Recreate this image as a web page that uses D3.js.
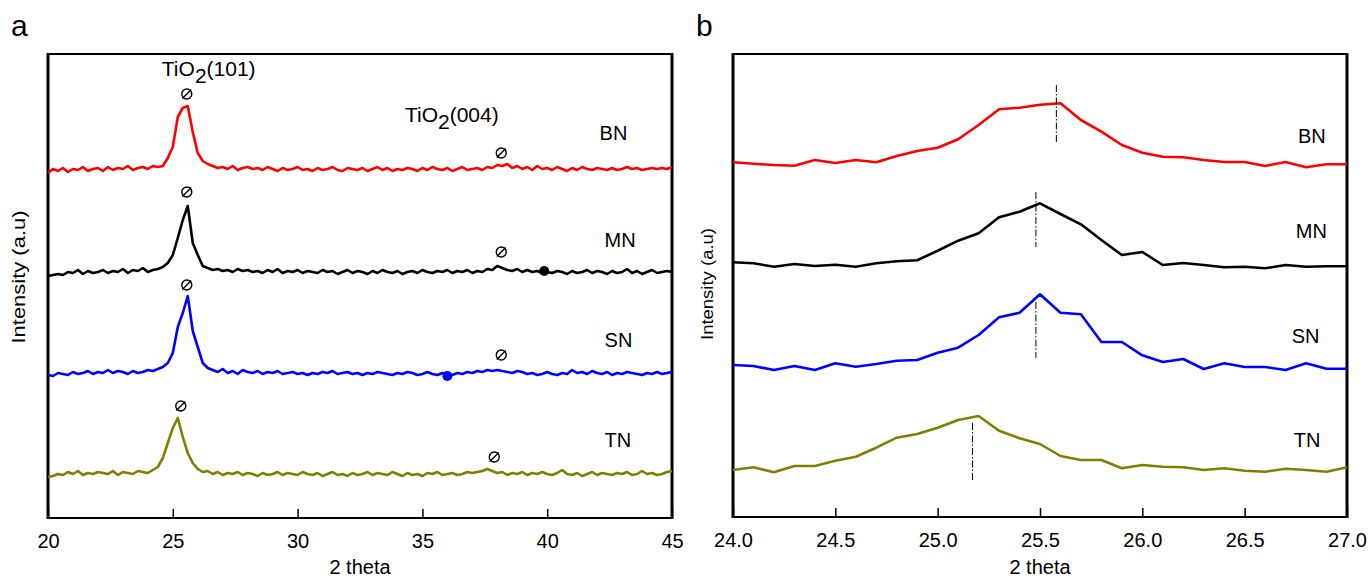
<!DOCTYPE html>
<html>
<head>
<meta charset="utf-8">
<script src="https://cdn.jsdelivr.net/npm/d3@7/dist/d3.min.js"></script>
<style>
	body { margin: 0; background: #fff; }
	text { font-family: "Liberation Sans", Arial, sans-serif; fill: #000; }
</style>
</head>
<body>
<svg id="chart" width="1368" height="579"></svg>
<script>
// samples
const samples = ["BN", "MN", "SN", "TN"];
const colors = ["#ff0000", "#000000", "#0000ff", "#808000"];

// panel a: 2 theta 20..45, one reading every 0.2 deg
const thetaA = d3.range(126).map(i => +(20 + i * 0.2).toFixed(1));
const offsetsA = [340, 236, 135, 34];

const bnA = [
	5, 9, 7, 10, 6, 9, 8, 11, 7, 9, 10, 7, 11, 8, 10, 9, 12, 8, 10, 11, 9, 12,
	11, 12, 20, 31, 61, 70, 72, 46, 25, 17, 14,
	12, 10, 11, 9, 12, 8, 10, 11, 9, 10,
	8, 11, 9, 7, 10, 8, 9, 11, 8, 9,
	7, 10, 8, 9, 11, 8, 7, 10, 9, 8,
	10, 7, 9, 11, 8, 10, 7, 9, 8, 10,
	9, 7, 10, 8, 11, 9, 8, 10, 7, 9,
	11, 8, 9, 10, 8, 11, 10, 13, 12, 14,
	10, 12, 9, 11, 8, 12, 9, 10, 8, 11,
	9, 7, 10, 8, 11, 9, 8, 10, 9, 8,
	10, 8, 9, 11, 9, 10, 8, 9, 10, 9,
	10, 9, 11
];
const mnA = [
	6, 7, 8, 7, 10, 9, 12, 8, 11, 9, 10, 12, 9, 11, 10, 13, 9, 12, 11, 14, 10, 12,
	13, 15, 19, 27, 44, 62, 76, 39, 27, 16, 14,
	12, 13, 11, 12, 10, 13, 11, 12, 10, 11,
	9, 12, 10, 13, 9, 11, 10, 12, 9, 11,
	10, 9, 12, 10, 11, 8, 10, 12, 9, 11,
	10, 8, 11, 9, 12, 10, 9, 11, 8, 10,
	11, 9, 12, 10, 9, 11, 10, 12, 9, 11,
	10, 12, 9, 11, 10, 13, 12, 16, 14, 12,
	11, 13, 10, 12, 10, 11, 9, 10, 9, 11,
	10, 8, 11, 9, 10, 12, 9, 11, 10, 8,
	11, 9, 10, 13, 9, 11, 8, 10, 12, 9,
	10, 11, 10
];
const snA = [
	8, 7, 10, 9, 8, 11, 9, 10, 12, 9, 11, 10, 13, 10, 12, 11, 9, 12, 10, 11, 13, 12,
	14, 16, 20, 30, 56, 70, 87, 52, 36, 20, 15,
	13, 11, 14, 10, 12, 9, 13, 11, 10, 12,
	9, 11, 10, 12, 9, 10, 11, 9, 10, 8,
	10, 9, 11, 10, 12, 9, 10, 11, 9, 10,
	8, 10, 9, 11, 10, 9, 8, 10, 9, 11,
	10, 8, 9, 11, 9, 8, 10, 9, 8, 10,
	9, 11, 10, 12, 11, 13, 12, 13, 12, 11,
	10, 12, 11, 9, 10, 8, 9, 11, 9, 8,
	10, 9, 13, 10, 11, 9, 12, 10, 9, 11,
	8, 10, 9, 11, 10, 9, 8, 10, 9, 11,
	9, 10, 11
];
const tnA = [
	7, 8, 10, 9, 12, 10, 13, 9, 11, 10, 12, 11, 10, 13, 9, 12, 11, 10, 13, 12, 11, 14,
	17, 26, 41, 56, 66, 47, 31, 21, 15, 12, 13,
	10, 12, 9, 11, 10, 12, 9, 11, 10, 8,
	11, 9, 10, 12, 9, 11, 10, 9, 12, 10,
	9, 11, 8, 10, 12, 9, 10, 8, 11, 9,
	10, 12, 9, 11, 10, 9, 12, 10, 8, 11,
	9, 10, 8, 11, 10, 12, 9, 10, 11, 9,
	10, 12, 11, 12, 13, 15, 13, 11, 12, 9,
	11, 10, 12, 9, 11, 10, 12, 10, 9, 11,
	14, 10, 9, 11, 8, 10, 12, 9, 11, 10,
	9, 11, 10, 12, 9, 10, 13, 10, 11, 9,
	10, 12, 13
];
const seriesA = [bnA, mnA, snA, tnA];

// reflection markers in panel a
const peak101 = [25.56, 25.56, 25.56, 25.32];
const mark101 = [424, 326, 233, 112];
const peak004 = [38.16, 38.16, 38.16, 37.88];
const mark004 = [365, 266, 163, 61];
const dotTheta = [39.88, 36.0];
const dotValue = [247, 142];
const dotSample = [1, 2];

// panel b: zoom on the (101) reflection
const thetaB = [24.0, 24.1, 24.2, 24.3, 24.4, 24.5, 24.6, 24.7, 24.8, 24.9, 25.0,
	25.1, 25.2, 25.3, 25.4, 25.5, 25.6, 25.7, 25.8, 25.9, 26.0,
	26.1, 26.2, 26.3, 26.4, 26.5, 26.6, 26.7, 26.8, 26.9, 27.0];
const offsetsB = [340, 240, 140, 40];
const bnB = [14.7, 13.3, 12, 11.3, 17, 14, 17, 14.7, 21, 26, 29.3,
	37.7, 52, 67.7, 69.3, 72.3, 73.7, 57, 45.3, 32, 24.3,
	20.3, 19.7, 17, 15, 15, 11, 15, 9.7, 12.7, 12.7];
const mnB = [14.7, 13.7, 10.3, 13, 11, 12.3, 10.3, 13.7, 15.7, 16.7, 26.3,
	36.3, 43.7, 59.7, 65.3, 73.7, 63, 52.7, 37, 22, 25,
	12, 14, 12, 9.7, 10.3, 8.7, 12, 10.3, 10.7, 10.7];
const snB = [12, 11, 7, 11, 7, 13.7, 10.3, 13, 16.3, 17, 24.3,
	29.3, 42, 59.7, 64.3, 82.7, 64.3, 62.7, 35, 35, 21.7,
	15, 18, 8, 13.7, 10, 10, 7, 13.7, 8.3, 8.3];
const tnB = [7, 9.7, 4.7, 11, 11, 16.3, 20.3, 29.3, 39.3, 43, 49.3,
	57, 61, 46.3, 38.7, 33, 21, 17, 17, 8.7, 12,
	10.3, 9.7, 7, 8.7, 6.3, 5.3, 8.3, 7, 5.3, 9.7];
const seriesB = [bnB, mnB, snB, tnB];

// peak centres (dash-dot marks) in panel b
const peakB = [25.58, 25.48, 25.48, 25.17];
const peakTop = [432, 325, 215, 94];
const peakBottom = [375, 270, 159, 37];

const ticksA = [20, 25, 30, 35, 40, 45];
const ticksB = [24.0, 24.5, 25.0, 25.5, 26.0, 26.5, 27.0];

let svg = d3.select("#chart");

function drawPanel(p)
{
	let x = d3.scaleLinear().domain(p.xDomain).range([p.left, p.right]);
	let y = d3.scaleLinear().domain(p.yDomain).range([p.bottom, p.top]);
	let g = svg.append("g");

	//x-axis, ticks pointing inward
	let ax = g.append("g")
		.attr("transform", "translate(0," + p.bottom + ")")
		.call(d3.axisBottom(x).tickValues(p.ticks).tickFormat(p.format)
			.tickSizeInner(-9).tickSizeOuter(0).tickPadding(16));
	ax.select(".domain").remove();
	ax.selectAll(".tick line").attr("stroke", "#000").attr("stroke-width", 1.5);
	ax.selectAll(".tick text")
		.attr("font-size", 20)
		.attr("font-family", "Liberation Sans, Arial, sans-serif");

	//frame
	g.append("line").attr("x1", p.left).attr("x2", p.right).attr("y1", p.top).attr("y2", p.top)
		.attr("stroke", "#000").attr("stroke-width", 2);
	g.append("line").attr("x1", p.left).attr("x2", p.right).attr("y1", p.bottom).attr("y2", p.bottom)
		.attr("stroke", "#000").attr("stroke-width", 2);
	g.append("line").attr("x1", p.left).attr("x2", p.left).attr("y1", p.top - 1).attr("y2", p.bottom + 1)
		.attr("stroke", "#000").attr("stroke-width", 3);
	g.append("line").attr("x1", p.right).attr("x2", p.right).attr("y1", p.top - 1).attr("y2", p.bottom + 1)
		.attr("stroke", "#000").attr("stroke-width", 3);

	//axis titles
	g.append("text")
		.attr("x", (p.left + p.right) / 2)
		.attr("y", 574)
		.attr("text-anchor", "middle")
		.attr("font-size", 20)
		.text("2 theta");

	g.append("text")
		.attr("transform", "translate(" + p.yLabelX + "," + p.yLabelY + ") rotate(-90)")
		.attr("text-anchor", "middle")
		.attr("font-size", p.yLabelSize)
		.attr("textLength", p.yLabelLength)
		.attr("lengthAdjust", "spacingAndGlyphs")
		.text("Intensity (a.u)");

	//panel letter
	g.append("text")
		.attr("x", p.letterX)
		.attr("y", 36)
		.attr("font-size", 30)
		.text(p.letter);

	//series
	let line = d3.line()
		.x(d => x(d[0]))
		.y(d => y(d[1]));

	for (let i = 0; i < samples.length; i++)
	{
		let pts = p.theta.map((t, k) => [t, p.series[i][k] + p.offsets[i]]);
		g.append("path")
			.datum(pts)
			.attr("fill", "none")
			.attr("stroke", colors[i])
			.attr("stroke-width", 2.6)
			.attr("stroke-linejoin", "round")
			.attr("d", line);

		g.append("text")
			.attr("x", x(p.labelX[i]))
			.attr("y", y(p.labelY[i]))
			.attr("font-size", 20)
			.text(samples[i]);
	}

	return { g: g, x: x, y: y };
}

function slashedCircle(g, cx, cy)
{
	let m = g.append("g").attr("transform", "translate(" + cx + "," + cy + ")");
	m.append("circle").attr("r", 5).attr("fill", "none").attr("stroke", "#000").attr("stroke-width", 1.4);
	m.append("line").attr("x1", -4.5).attr("y1", 4.5).attr("x2", 4.5).attr("y2", -4.5)
		.attr("stroke", "#000").attr("stroke-width", 1.4);
}

//panel a
let a = drawPanel({
	letter: "a", letterX: 11,
	left: 48, right: 672, top: 54, bottom: 518,
	xDomain: [20, 45], yDomain: [0, 464],
	ticks: ticksA, format: d3.format("d"),
	theta: thetaA, series: seriesA, offsets: offsetsA,
	labelX: [42.1, 42.3, 42.3, 42.3], labelY: [378, 271, 171, 71],
	yLabelX: 25, yLabelY: 277, yLabelSize: 18, yLabelLength: 133
});

for (let i = 0; i < samples.length; i++)
{
	slashedCircle(a.g, a.x(peak101[i]), a.y(mark101[i]));
	slashedCircle(a.g, a.x(peak004[i]), a.y(mark004[i]));
}

for (let i = 0; i < dotTheta.length; i++)
{
	a.g.append("circle")
		.attr("cx", a.x(dotTheta[i]))
		.attr("cy", a.y(dotValue[i]))
		.attr("r", 5)
		.attr("fill", colors[dotSample[i]]);
}

//reflection names
let t101 = a.g.append("text").attr("x", a.x(24.56)).attr("y", a.y(442)).attr("font-size", 21);
t101.append("tspan").text("TiO");
t101.append("tspan").attr("dy", 7).text("2");
t101.append("tspan").attr("dy", -7).text("(101)");

let t004 = a.g.append("text").attr("x", a.x(34.3)).attr("y", a.y(396)).attr("font-size", 21);
t004.append("tspan").text("TiO");
t004.append("tspan").attr("dy", 7).text("2");
t004.append("tspan").attr("dy", -7).text("(004)");

//panel b
let b = drawPanel({
	letter: "b", letterX: 696,
	left: 733, right: 1347, top: 54, bottom: 517,
	xDomain: [24, 27], yDomain: [0, 463],
	ticks: ticksB, format: d3.format(".1f"),
	theta: thetaB, series: seriesB, offsets: offsetsB,
	labelX: [26.76, 26.75, 26.73, 26.74], labelY: [373.7, 279.3, 174.3, 70.3],
	yLabelX: 713, yLabelY: 284, yLabelSize: 16, yLabelLength: 112
});

for (let i = 0; i < samples.length; i++)
{
	b.g.append("line")
		.attr("x1", b.x(peakB[i])).attr("x2", b.x(peakB[i]))
		.attr("y1", b.y(peakTop[i])).attr("y2", b.y(peakBottom[i]))
		.attr("stroke", "#000")
		.attr("stroke-width", 1)
		.attr("stroke-dasharray", "7,2,1.5,2");
}
</script>
</body>
</html>
